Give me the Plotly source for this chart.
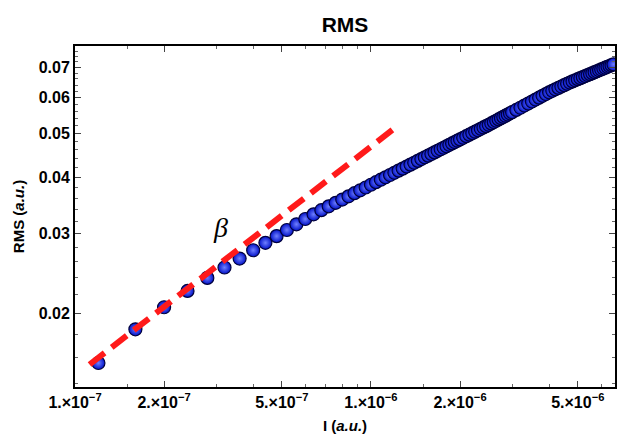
import math
import plotly.graph_objects as go

# Current I in units of 1e-7 (a.u.) and RMS (a.u.)
current_e7 = [1.2, 1.6, 2.0, 2.4, 2.8, 3.2, 3.6, 4.0, 4.4, 4.8,
              5.2, 5.6, 6.0, 6.4, 6.8, 7.2, 7.6, 8.0, 8.4, 8.8,
              9.2, 9.6, 10.0, 10.4, 10.8, 11.2, 11.6, 12.0, 12.4, 12.8,
              13.2, 13.6, 14.0, 14.4, 14.8, 15.2, 15.6, 16.0, 16.4, 16.8,
              17.2, 17.6, 18.0, 18.4, 18.8, 19.2, 19.6, 20.0,
              20.5, 21.0, 21.5, 22.0, 22.5, 23.0, 23.5, 24.0, 24.5, 25.0,
              25.5, 26.0, 26.5, 27.0, 27.5, 28.0, 28.5, 29.0, 29.5, 30.0,
              31, 32, 33, 34, 35, 36, 37, 38, 39, 40,
              41, 42, 43, 44, 45, 46, 47, 48, 49, 50,
              51, 52, 53, 54, 55, 56, 57, 58, 59, 60,
              61, 62, 63, 64, 65, 66]
rms = [0.01555, 0.01846, 0.02065, 0.02244, 0.02398, 0.02528, 0.02646, 0.02760, 0.02866, 0.02966,
       0.03060, 0.03150, 0.03236, 0.03314, 0.03385, 0.03452, 0.03514, 0.03573, 0.03632, 0.03690,
       0.03745, 0.03799, 0.03852, 0.03903, 0.03952, 0.04001, 0.04048, 0.04094, 0.04139, 0.04182,
       0.04226, 0.04268, 0.04309, 0.04350, 0.04390, 0.04429, 0.04467, 0.04505, 0.04542, 0.04579,
       0.04615, 0.04650, 0.04685, 0.04720, 0.04754, 0.04787, 0.04820, 0.04852,
       0.04892, 0.04932, 0.04971, 0.05009, 0.05046, 0.05083, 0.05120, 0.05156, 0.05191, 0.05226,
       0.05264, 0.05300, 0.05335, 0.05371, 0.05405, 0.05440, 0.05474, 0.05507, 0.05541, 0.05573,
       0.05638, 0.05701, 0.05764, 0.05824, 0.05884, 0.05943, 0.06000, 0.06057, 0.06112, 0.06166,
       0.06213, 0.06260, 0.06306, 0.06352, 0.06396, 0.06440, 0.06482, 0.06519, 0.06556, 0.06592,
       0.06628, 0.06663, 0.06697, 0.06731, 0.06765, 0.06798, 0.06831, 0.06864, 0.06896, 0.06927,
       0.06958, 0.06989, 0.07020, 0.07050, 0.07080, 0.07109]
UNIT = 1e-7
current = [v * UNIT for v in current_e7]

# Power-law guide line (slope beta ~ 0.5), endpoints
fit_x = [1.12e-7, 1.2e-6]
fit_y = [0.01543, 0.0513]
beta_label_pos = (3.1e-7, 0.031)

x_ticks = [1e-7, 2e-7, 5e-7, 1e-6, 2e-6, 5e-6]
x_ticktext = ["1.\u00d710<sup>\u22127</sup>", "2.\u00d710<sup>\u22127</sup>", "5.\u00d710<sup>\u22127</sup>",
              "1.\u00d710<sup>\u22126</sup>", "2.\u00d710<sup>\u22126</sup>", "5.\u00d710<sup>\u22126</sup>"]
x_minor = [1.5e-7, 3e-7, 4e-7, 6e-7, 7e-7, 8e-7, 9e-7, 1.5e-6, 3e-6, 4e-6, 6e-6]
y_ticks = [0.02, 0.03, 0.04, 0.05, 0.06, 0.07]
y_ticktext = ["0.02", "0.03", "0.04", "0.05", "0.06", "0.07"]
y_minor = [0.014, 0.016, 0.018, 0.022, 0.024, 0.026, 0.028, 0.032, 0.034, 0.036, 0.038,
           0.042, 0.044, 0.046, 0.048, 0.052, 0.054, 0.056, 0.058, 0.062, 0.064, 0.066,
           0.068, 0.072, 0.074, 0.076]

fig = go.Figure()
fig.add_trace(go.Scatter(
    x=current, y=rms, mode="markers",
    marker=dict(size=13, color="#0010c8",
                gradient=dict(type="radial", color="#7080ff"),
                line=dict(width=1.2, color="#00003c")),
    showlegend=False, hoverinfo="skip"))
fig.add_trace(go.Scatter(
    x=fit_x, y=fit_y, mode="lines",
    line=dict(color="#ff1a1a", width=6, dash="19px,9px"),
    showlegend=False, hoverinfo="skip"))

font_family = "Liberation Sans, Arial, sans-serif"
axis_common = dict(
    type="log", showgrid=False, zeroline=False,
    showline=True, linecolor="black", linewidth=2, mirror="allticks",
    ticks="inside", ticklen=6, tickwidth=1, tickcolor="#444",
    tickfont=dict(family=font_family, size=16, color="black", weight="bold"),
)

fig.update_xaxes(
    **axis_common,
    range=[math.log10(1e-7), math.log10(6.68e-6)],
    tickvals=x_ticks, ticktext=x_ticktext,
    minor=dict(tickvals=x_minor, ticks="inside", ticklen=3, tickcolor="#666"),
    title=dict(text="I (<i>a.u.</i>)", standoff=10,
               font=dict(family=font_family, size=15, color="black", weight="bold")),
)
fig.update_yaxes(
    **axis_common,
    range=[-1.86136, -1.1076],
    tickvals=y_ticks, ticktext=y_ticktext,
    minor=dict(tickvals=y_minor, ticks="inside", ticklen=3, tickcolor="#666"),
    title=dict(text="RMS (<i>a.u.</i>)", standoff=10,
               font=dict(family=font_family, size=15, color="black", weight="bold")),
)

fig.add_annotation(
    x=math.log10(beta_label_pos[0]), y=math.log10(beta_label_pos[1]),
    xref="x", yref="y", text="<i>\u03b2</i>", showarrow=False,
    font=dict(family="Liberation Serif, serif", size=28, color="black"),
)

fig.update_layout(
    width=617, height=441,
    margin=dict(l=75, r=0, t=46, b=54),
    paper_bgcolor="white", plot_bgcolor="white",
    title=dict(text="RMS", x=0.5, xref="paper", y=1 - 25 / 441, yref="container",
               xanchor="center", yanchor="middle",
               font=dict(family=font_family, size=21, color="black", weight="bold")),
)

fig.write_html("out.html")
